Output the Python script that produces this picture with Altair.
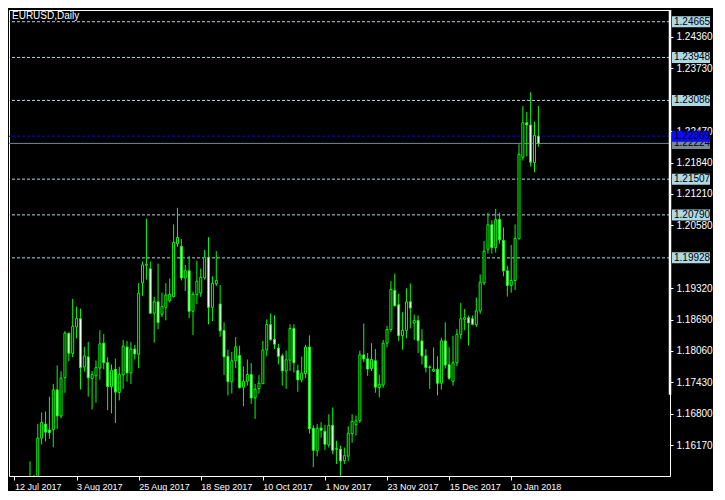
import json
import altair as alt
import pandas as pd

# ---------------- data ----------------
bar_index = list(range(4, 136))
opens = [1.1480, 1.1550, 1.1520, 1.16312, 1.16593, 1.16475, 1.16481, 1.17280, 1.16756, 1.17522,
         1.18413, 1.18012, 1.18542, 1.18707, 1.17737, 1.17942, 1.17510, 1.17561, 1.17718, 1.18216,
         1.17824, 1.17345, 1.17692, 1.17227, 1.17580, 1.18138, 1.17620, 1.18099, 1.17993, 1.19426,
         1.19780, 1.19708, 1.18817, 1.19047, 1.18797, 1.18935, 1.19066, 1.19151, 1.20211, 1.20160,
         1.19524, 1.19669, 1.18856, 1.19190, 1.19223, 1.19524, 1.19944, 1.18935, 1.19406, 1.19002,
         1.18472, 1.17953, 1.17443, 1.17863, 1.17967, 1.17333, 1.17451, 1.17588, 1.17117, 1.17306,
         1.17404, 1.18079, 1.18589, 1.18295, 1.18118, 1.17961, 1.17659, 1.17875, 1.18511, 1.17667,
         1.17482, 1.17608, 1.18138, 1.16509, 1.16057, 1.16515, 1.16450, 1.16175, 1.16568, 1.16100,
         1.16090, 1.15861, 1.15951, 1.16403, 1.16579, 1.16665, 1.17981, 1.17902, 1.17706, 1.17863,
         1.17325, 1.17378, 1.18216, 1.18491, 1.19276, 1.18988, 1.18366, 1.18472, 1.19047, 1.18621,
         1.18674, 1.18262, 1.17961, 1.17740, 1.17653, 1.17692, 1.17412, 1.18262, 1.17785, 1.17451,
         1.17824, 1.18393, 1.18693, 1.18727, 1.18707, 1.18589, 1.18864, 1.19426, 1.20101, 1.20592,
         1.20132, 1.20696, 1.20278, 1.19669, 1.19375, 1.19473, 1.20309, 1.21946, 1.22639, 1.22594,
         1.21840, 1.22370]
highs = [1.15847, 1.15572, 1.16593, 1.16829, 1.16848, 1.17143, 1.17398, 1.17771, 1.17653, 1.18458,
         1.18430, 1.19106, 1.18949, 1.18909, 1.18144, 1.18242, 1.17659, 1.17869, 1.18477, 1.18399,
         1.17934, 1.17790, 1.17908, 1.17745, 1.18281, 1.18262, 1.18242, 1.18183, 1.19420, 1.19852,
         1.20715, 1.19852, 1.19145, 1.19812, 1.19229, 1.19420, 1.19512, 1.20598, 1.20931, 1.20303,
         1.19787, 1.19969, 1.19249, 1.19871, 1.19714, 1.20087, 1.20342, 1.19557, 1.20062, 1.19380,
         1.18635, 1.18085, 1.18040, 1.18340, 1.18163, 1.17751, 1.17889, 1.17816, 1.17398, 1.17575,
         1.18262, 1.18693, 1.18811, 1.18772, 1.18203, 1.18006, 1.18065, 1.18595, 1.18595, 1.17785,
         1.17947, 1.18183, 1.18373, 1.16568, 1.16593, 1.16632, 1.16579, 1.16789, 1.16927, 1.16259,
         1.16161, 1.16122, 1.16548, 1.16789, 1.16764, 1.18065, 1.18609, 1.18020, 1.18216, 1.18099,
         1.17588, 1.18281, 1.18562, 1.19459, 1.19610, 1.19210, 1.18837, 1.19316, 1.19414, 1.18792,
         1.18772, 1.18497, 1.18099, 1.17771, 1.18130, 1.17953, 1.18326, 1.18635, 1.18138, 1.18360,
         1.18497, 1.19027, 1.18903, 1.18772, 1.18772, 1.19131, 1.19596, 1.20264, 1.20833, 1.20682,
         1.20912, 1.20833, 1.20539, 1.19773, 1.20185, 1.20598, 1.22207, 1.22973, 1.22855, 1.23248,
         1.22659, 1.22973]
lows = [1.1475, 1.1505, 1.1510, 1.16187, 1.16246, 1.16299, 1.16128, 1.16495, 1.16711, 1.17221,
        1.17855, 1.17934, 1.18315, 1.17286, 1.17647, 1.17143, 1.16887, 1.17025, 1.17482, 1.17692,
        1.16874, 1.16809, 1.16613, 1.17070, 1.17300, 1.17443, 1.17398, 1.17889, 1.17712, 1.19165,
        1.19492, 1.18805, 1.18228, 1.18497, 1.18739, 1.18674, 1.19033, 1.19131, 1.20146, 1.19473,
        1.19263, 1.18719, 1.18379, 1.19002, 1.19145, 1.19492, 1.18595, 1.18660, 1.19361, 1.18346,
        1.17580, 1.17168, 1.17207, 1.17712, 1.17306, 1.16952, 1.17364, 1.16999, 1.16697, 1.17202,
        1.17398, 1.17953, 1.18267, 1.18099, 1.17790, 1.17364, 1.17300, 1.17659, 1.17628, 1.17241,
        1.17431, 1.17516, 1.16403, 1.15729, 1.15945, 1.16318, 1.16069, 1.16122, 1.15990, 1.15794,
        1.15553, 1.15794, 1.15847, 1.16220, 1.16363, 1.16613, 1.17836, 1.17561, 1.17659, 1.17221,
        1.17129, 1.17319, 1.18130, 1.18444, 1.18949, 1.18262, 1.18085, 1.18315, 1.18511, 1.18281,
        1.18020, 1.17790, 1.17628, 1.17300, 1.17639, 1.17168, 1.17286, 1.17706, 1.17482, 1.17364,
        1.17757, 1.18295, 1.18477, 1.18169, 1.18576, 1.18542, 1.18805, 1.19380, 1.20015, 1.20015,
        1.20034, 1.20211, 1.19557, 1.19151, 1.19229, 1.19282, 1.20300, 1.21879, 1.21966, 1.21762,
        1.21644, 1.22154]
closes = [1.1550, 1.1515, 1.16312, 1.16626, 1.16430, 1.16422, 1.17280, 1.16756, 1.17516, 1.18419,
          1.18012, 1.18556, 1.18713, 1.17726, 1.17961, 1.17522, 1.17588, 1.17726, 1.18203, 1.17824,
          1.17345, 1.17673, 1.17235, 1.17588, 1.18158, 1.17620, 1.18099, 1.18000, 1.19218, 1.19787,
          1.19800, 1.18817, 1.19047, 1.18629, 1.18949, 1.19184, 1.19198, 1.20238, 1.20336, 1.19524,
          1.19669, 1.18856, 1.19198, 1.19459, 1.19538, 1.19944, 1.18935, 1.19414, 1.19473, 1.18464,
          1.17942, 1.17443, 1.17863, 1.18144, 1.17325, 1.17451, 1.17588, 1.17117, 1.17294, 1.17412,
          1.18079, 1.18589, 1.18287, 1.18197, 1.17953, 1.17659, 1.17883, 1.18511, 1.17824, 1.17482,
          1.17614, 1.18138, 1.16501, 1.16069, 1.16509, 1.16469, 1.16187, 1.16568, 1.16069, 1.16090,
          1.15853, 1.15959, 1.16410, 1.16646, 1.16658, 1.17981, 1.17902, 1.17698, 1.17889, 1.17333,
          1.17392, 1.18216, 1.18491, 1.19296, 1.18968, 1.18366, 1.18477, 1.19047, 1.18923, 1.18674,
          1.18267, 1.17961, 1.17726, 1.17730, 1.17692, 1.17412, 1.18262, 1.17777, 1.17510, 1.17824,
          1.18393, 1.18707, 1.18727, 1.18621, 1.18595, 1.18864, 1.19439, 1.20062, 1.20592, 1.20132,
          1.20696, 1.20289, 1.19669, 1.19375, 1.19473, 1.20317, 1.22005, 1.22639, 1.22594, 1.21848,
          1.22384, 1.22224]

x_tick_index = [0, 16, 32, 48, 64, 80, 96, 112, 128]
x_tick_labels = ["12 Jul 2017", "3 Aug 2017", "25 Aug 2017", "18 Sep 2017", "10 Oct 2017",
                 "1 Nov 2017", "23 Nov 2017", "15 Dec 2017", "10 Jan 2018"]
# regular price-scale labels (1.23100 and 1.19950 are hidden under level boxes)
y_ticks = [1.16170, 1.16800, 1.17430, 1.18060, 1.18690, 1.19320, 1.20580,
           1.21210, 1.21840, 1.22470, 1.23730, 1.24360]

level_prices = [1.24665, 1.23948, 1.23086, 1.21507, 1.20790, 1.19928, 1.22224, 1.22369]
level_kind = ["level", "level", "level", "level", "level", "level", "bid", "blue"]

title_text = "EURUSD,Daily"
thick_axis_range = [1.1718, 1.2490]

# ---------------- styling ----------------
W, H = 661, 466
X_DOMAIN = [-0.125, 167.625]
Y_DOMAIN = [1.15552, 1.2490]
GREEN = "#00ff00"
FONT = "Liberation Sans"
line_color = {"level": "#add8e6", "blue": "#0000ff", "bid": "#778899"}
box_color = {"level": "#add8e6", "blue": "#0a0aff", "bid": "#778899"}

candles = pd.DataFrame({"i": bar_index, "open": opens, "high": highs,
                        "low": lows, "close": closes})
levels = pd.DataFrame({"price": level_prices, "kind": level_kind})
levels["lcolor"] = levels["kind"].map(line_color)
levels["bcolor"] = levels["kind"].map(box_color)
levels["label"] = levels["price"].map(lambda v: f"{v:.5f}")
levels["dash"] = levels["kind"].map(lambda k: 0 if k == "bid" else 1)

xscale = alt.Scale(domain=X_DOMAIN, nice=False, zero=False)
yscale = alt.Scale(domain=Y_DOMAIN, nice=False, zero=False)

label_expr = f"{json.dumps(x_tick_labels)}[indexof({json.dumps(x_tick_index)}, datum.value)]"

xaxis = alt.Axis(values=x_tick_index, labelExpr=label_expr, title=None, grid=False,
                 domain=False, ticks=True, tickColor="white", tickSize=4,
                 labelColor="white", labelFont=FONT, labelFontSize=9, labelAlign="left",
                 labelPadding=2, labelFlush=False, labelOverlap=False)
yaxis = alt.Axis(values=y_ticks, format=".5f", orient="right", title=None, grid=False,
                 domain=False, tickColor="white", tickSize=3, labelColor="white",
                 labelFont=FONT, labelFontSize=10, labelPadding=3, labelOverlap=False,
                 labelFlush=False, zindex=0)

base = alt.Chart(candles)

wicks = base.mark_rule(color=GREEN, strokeWidth=1, clip=True).encode(
    x=alt.X("i:Q", scale=xscale, axis=xaxis),
    y=alt.Y("low:Q", scale=yscale, axis=yaxis),
    y2="high:Q",
)

bodies = base.mark_bar(size=2, stroke=GREEN, strokeWidth=1, clip=True).encode(
    x=alt.X("i:Q", scale=xscale, axis=xaxis),
    y=alt.Y("open:Q", scale=yscale, axis=yaxis),
    y2="close:Q",
    fill=alt.condition("datum.open > datum.close", alt.value("white"), alt.value("black")),
)

lv = alt.Chart(levels)
dashed = lv.transform_filter("datum.dash == 1").mark_rule(strokeWidth=1, strokeDash=[3, 2]).encode(
    y=alt.Y("price:Q", scale=yscale, axis=yaxis),
    color=alt.Color("lcolor:N", scale=None),
)
solid = lv.transform_filter("datum.dash == 0").mark_rule(strokeWidth=1).encode(
    y=alt.Y("price:Q", scale=yscale, axis=yaxis),
    color=alt.Color("lcolor:N", scale=None),
)


def box_layers(filter_expr):
    src = lv.transform_filter(filter_expr)
    box = src.mark_tick(orient="horizontal", thickness=11, size=38, opacity=1).encode(
        x=alt.value(W + 21),
        y=alt.Y("price:Q", scale=yscale, axis=yaxis),
        color=alt.Color("bcolor:N", scale=None),
    )
    txt = src.mark_text(align="left", baseline="middle", font=FONT, fontSize=10,
                        color="black").encode(
        x=alt.value(W + 4),
        y=alt.Y("price:Q", scale=yscale, axis=yaxis),
        text="label:N",
    )
    return [box, txt]


thick = alt.Chart(pd.DataFrame({"a": [thick_axis_range[0]], "b": [thick_axis_range[1]]})).mark_rule(
    color="white", strokeWidth=2.5).encode(
    x=alt.value(W),
    y=alt.Y("a:Q", scale=yscale, axis=yaxis),
    y2="b:Q",
)

title = alt.Chart(pd.DataFrame({"t": [title_text]})).mark_text(
    align="left", baseline="middle", font=FONT, fontSize=10, color="white").encode(
    x=alt.value(3), y=alt.value(6), text="t:N")

chart = alt.layer(
    dashed, solid, wicks, bodies, thick,
    *box_layers("datum.kind != 'blue'"),
    *box_layers("datum.kind == 'blue'"),
    title,
).properties(
    width=W, height=H, padding=0, background="black"
).configure_view(fill="black", stroke="white", strokeWidth=1
).configure_axis(labelOverlap=False)

chart.save("out.html", embed_options={"renderer": "svg", "actions": False})
